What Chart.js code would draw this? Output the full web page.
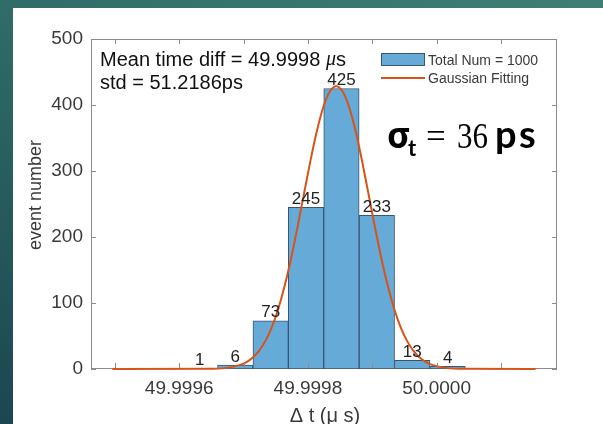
<!DOCTYPE html>
<html>
<head>
<meta charset="utf-8">
<script src="https://cdn.jsdelivr.net/npm/chart.js@4.4.1/dist/chart.umd.min.js"></script>
<style>
  html, body { margin: 0; padding: 0; width: 603px; height: 424px; overflow: hidden; }
  body { position: relative; background: linear-gradient(200deg, #3f7f76 0%, #2d6a66 40%, #1c4650 100%); }
  #panel { position: absolute; left: 13px; top: 8px; right: 0; bottom: 0; background: #fff; }
  #chart { position: absolute; left: 0; top: 0; }
</style>
</head>
<body>
<div id="panel"></div>
<canvas id="chart" width="603" height="424"></canvas>
<script>
// histogram: bin centres (µs) and event counts
const binCenters = [49.9996321, 49.9996871, 49.9997421, 49.9997971, 49.9998521, 49.9999071, 49.9999621, 50.0000171];
const counts = [1, 6, 73, 245, 425, 233, 13, 4];

// gaussian fitting curve
const fitX = [49.9994963, 49.999644, 49.999674, 49.999694, 49.999704, 49.999714, 49.999724, 49.999734,
              49.999744, 49.999754, 49.999764, 49.999774, 49.999784, 49.999794, 49.999804, 49.999814,
              49.999824, 49.999834, 49.999844, 49.999854, 49.999864, 49.999874, 49.999884, 49.999894,
              49.999904, 49.999914, 49.999924, 49.999934, 49.999944, 49.999954, 49.999964, 49.999974,
              49.999984, 49.999994, 50.000014, 50.000044, 50.0001537];
const fitY = [0, 0.2, 1.7, 5.9, 10.2, 17.1, 27.5, 42.6,
              63.6, 91.4, 126.4, 168.3, 215.6, 266.0, 315.8, 360.9,
              397.0, 420.4, 428.5, 420.4, 397.0, 360.9, 315.8, 266.0,
              215.6, 168.3, 126.4, 91.4, 63.6, 42.6, 27.5, 17.1,
              10.2, 5.9, 1.7, 0.2, 0];

// axes
const xTicks = [49.9995, 49.9996, 49.9997, 49.9998, 49.9999, 50.0000, 50.0001];
const xTickLabels = ['', '49.9996', '', '49.9998', '', '50.0000', ''];
const yTicks = [0, 100, 200, 300, 400, 500];

const colors = {
    bar: '#66aad7',
    barEdge: '#3a5570',
    fit: '#d95319',
    axis: '#8c8c8c',
    text: '#3a3a3a'
};
const sans = '"Liberation Sans", Arial, sans-serif';

// axes box goes under the data, the rest on top
const decorations = {
    id: 'decorations',
    beforeDatasetsDraw(chart) {
        const ctx = chart.ctx;
        const { left, right, top, bottom } = chart.chartArea;
        ctx.save();
        ctx.strokeStyle = colors.axis;
        ctx.lineWidth = 1;
        ctx.strokeRect(left + 0.5, top + 0.5, right - left - 1, bottom - top - 1);
        ctx.restore();
    },
    afterDraw(chart) {
        const ctx = chart.ctx;
        const { left, right, top, bottom } = chart.chartArea;
        const xs = chart.scales.x;
        const ys = chart.scales.y;
        ctx.save();

        // inward ticks on all four sides
        ctx.strokeStyle = colors.axis;
        ctx.lineWidth = 1;
        ctx.beginPath();
        xs.ticks.forEach(t => {
            const px = Math.round(xs.getPixelForValue(t.value)) + 0.5;
            ctx.moveTo(px, bottom - 1); ctx.lineTo(px, bottom - 6);
            ctx.moveTo(px, top); ctx.lineTo(px, top + 5);
        });
        ys.ticks.forEach(t => {
            const py = Math.round(ys.getPixelForValue(t.value)) + 0.5;
            ctx.moveTo(left, py); ctx.lineTo(left + 5, py);
            ctx.moveTo(right, py); ctx.lineTo(right - 5, py);
        });
        ctx.stroke();

        // counts above bars
        ctx.fillStyle = '#222';
        ctx.font = '17px ' + sans;
        ctx.textAlign = 'center';
        ctx.textBaseline = 'alphabetic';
        chart.getDatasetMeta(1).data.forEach((bar, i) => {
            ctx.fillText(String(counts[i]), bar.x, bar.y - 3.5);
        });

        // axis titles
        ctx.fillStyle = colors.text;
        ctx.textBaseline = 'middle';
        ctx.font = '20px ' + sans;
        ctx.fillText('\u0394 t (\u03bc s)', (left + right) / 2 + 1, 416);
        ctx.save();
        ctx.translate(36, 195);
        ctx.rotate(-Math.PI / 2);
        ctx.font = '18px ' + sans;
        ctx.fillText('event number', 0, 0);
        ctx.restore();

        // statistics note
        ctx.fillStyle = '#111';
        ctx.textAlign = 'left';
        ctx.font = '20px ' + sans;
        const head = 'Mean time diff = 49.9998 ';
        ctx.fillText(head, 100, 60);
        let x = 100 + ctx.measureText(head).width;
        ctx.font = 'italic 20px "Liberation Serif", serif';
        ctx.fillText('\u03bc', x, 60);
        x += ctx.measureText('\u03bc').width;
        ctx.font = '20px ' + sans;
        ctx.fillText('s', x, 60);
        ctx.fillText('std = 51.2186ps', 100, 83);

        // legend
        ctx.fillStyle = colors.bar;
        ctx.fillRect(381, 53, 44, 13);
        ctx.strokeStyle = colors.barEdge;
        ctx.strokeRect(381.5, 53.5, 43, 12);
        ctx.strokeStyle = colors.fit;
        ctx.lineWidth = 2;
        ctx.beginPath();
        ctx.moveTo(381, 78); ctx.lineTo(425, 78);
        ctx.stroke();
        ctx.fillStyle = colors.text;
        ctx.font = '14px ' + sans;
        ctx.fillText('Total Num = 1000', 428, 61);
        ctx.fillText('Gaussian Fitting', 428, 79);

        // sigma_t note
        ctx.fillStyle = '#000';
        ctx.textBaseline = 'alphabetic';
        ctx.font = 'bold 36px "Noto Sans", "DejaVu Sans", sans-serif';
        ctx.fillText('\u03c3', 387, 148);
        ctx.font = 'bold 22px Lato, sans-serif';
        ctx.fillText('t', 408, 156);
        ctx.font = '35px "Liberation Serif", serif';
        ctx.fillText('=', 426, 148, 26);
        ctx.fillText('36', 457, 148, 31);
        ctx.font = 'bold 38px Lato, sans-serif';
        ctx.fillText('p', 495, 148);
        ctx.fillText('s', 519, 148);

        ctx.restore();
    }
};

new Chart(document.getElementById('chart'), {
    type: 'bar',
    data: {
        datasets: [
            {
                type: 'line',
                label: 'Gaussian Fitting',
                data: fitX.map((v, i) => ({ x: v, y: fitY[i] })),
                borderColor: colors.fit,
                borderWidth: 2,
                pointRadius: 0,
                cubicInterpolationMode: 'monotone',
                clip: { left: 0, top: 0, right: 0, bottom: 3 },
                order: 1
            },
            {
                label: 'Total Num = 1000',
                data: binCenters.map((v, i) => ({ x: v, y: counts[i] })),
                backgroundColor: colors.bar,
                borderColor: colors.barEdge,
                borderWidth: 1,
                borderSkipped: false,
                categoryPercentage: 1,
                barPercentage: 1,
                order: 2
            }
        ]
    },
    options: {
        responsive: false,
        animation: false,
        layout: { padding: { top: 39, right: 46, left: 0, bottom: 0 } },
        scales: {
            x: {
                type: 'linear',
                offset: false,
                min: 49.999463,
                max: 50.000187,
                afterBuildTicks: scale => { scale.ticks = xTicks.map(v => ({ value: v })); },
                afterFit: scale => { scale.height = 55; },
                grid: { display: false, drawTicks: false, offset: false },
                border: { display: false },
                ticks: {
                    autoSkip: false,
                    maxRotation: 0,
                    padding: 8,
                    color: colors.text,
                    font: { family: sans, size: 19 },
                    callback: (value, index) => xTickLabels[index]
                }
            },
            y: {
                min: 0,
                max: 500,
                afterBuildTicks: scale => { scale.ticks = yTicks.map(v => ({ value: v })); },
                afterFit: scale => { scale.width = 91; },
                grid: { display: false, drawTicks: false },
                border: { display: false },
                ticks: {
                    padding: 8,
                    color: colors.text,
                    font: { family: sans, size: 19 }
                }
            }
        },
        plugins: {
            legend: { display: false },
            tooltip: { enabled: false }
        }
    },
    plugins: [decorations]
});
</script>
</body>
</html>
